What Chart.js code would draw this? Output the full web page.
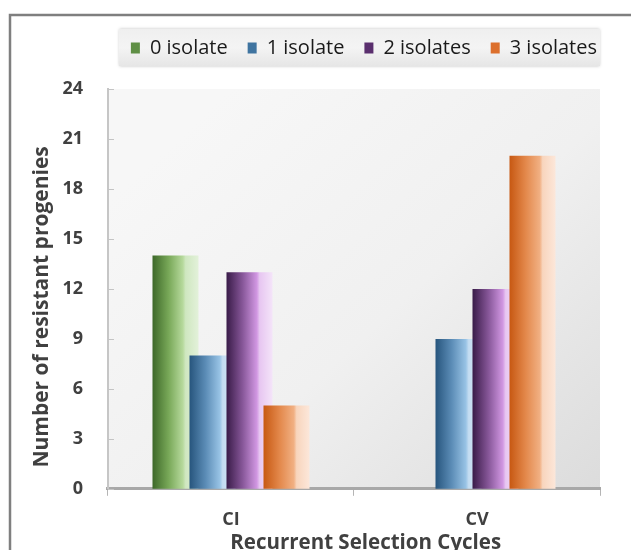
<!DOCTYPE html>
<html>
<head>
<meta charset="utf-8">
<script src="https://cdn.jsdelivr.net/npm/chart.js@4.4.0/dist/chart.umd.min.js"></script>
<style>
  html, body { margin: 0; padding: 0; background: #ffffff; }
  canvas { display: block; }
</style>
</head>
<body>
<canvas id="c" width="631" height="550"></canvas>
<script>
// ---- data ----
const categories = ['CI', 'CV'];
const seriesLabels = ['0 isolate', '1 isolate', '2 isolates', '3 isolates'];
const isolate0 = [14, 0];
const isolate1 = [8, 9];
const isolate2 = [13, 12];
const isolate3 = [5, 20];
const yTicks = [0, 3, 6, 9, 12, 15, 18, 21, 24];
const xTitle = 'Recurrent Selection Cycles';
const yTitle = 'Number of resistant progenies';

// ---- styles ----
const FONT = "'Open Sans', 'Liberation Sans', sans-serif";
const gradStops = [
  ['#3d6829', '#78a858', '#b6d99c', '#cfe7c0', '#e3f1da'],
  ['#27557d', '#5b8cb6', '#98c3e5', '#c3dcf1', '#d9e9f7'],
  ['#391b48', '#875799', '#d197e2', '#e7c6f1', '#f4e4f9'],
  ['#c75812', '#e3884b', '#f1b083', '#f8d5bd', '#fce7da']
];
const legendColors = ['#5f8f45', '#3f74a0', '#5a2f6e', '#dc6f2c'];
const CAT_PCT = 0.6016;
const BAR_PCT = 1.243;
const LEGEND_SHIFT = 17;
const X_TITLE_SHIFT = '\u2007\u2007';
const Y_TITLE_SHIFT = '\u2007\u2007\u2007';

function barGradient(ctx) {
  const ds = ctx.datasetIndex;
  const stops = gradStops[ds];
  const chart = ctx.chart;
  const xs = chart.scales && chart.scales.x;
  if (ctx.dataIndex === undefined || !xs || !chart.chartArea) return stops[1];
  const n = chart.data.datasets.length;
  const center = xs.getPixelForValue(ctx.dataIndex);
  const catW = (xs.right - xs.left) / categories.length;
  const step = catW * CAT_PCT / n;
  const bc = center + (ds - (n - 1) / 2) * step;
  const bw = step * BAR_PCT;
  const g = chart.ctx.createLinearGradient(bc - bw / 2, 0, bc + bw / 2, 0);
  g.addColorStop(0, stops[0]);
  g.addColorStop(0.35, stops[1]);
  g.addColorStop(0.66, stops[2]);
  g.addColorStop(0.72, stops[3]);
  g.addColorStop(1, stops[4]);
  return g;
}

const decoPlugin = {
  id: 'deco',
  beforeInit(chart) {
    const lg = chart.legend;
    const fit = lg.fit;
    lg.fit = function () { fit.call(lg); lg.height += 21; };
  },
  beforeDraw(chart) {
    const c = chart.ctx;
    const a = chart.chartArea;
    c.save();
    // outer frame
    c.strokeStyle = '#7f7f7f';
    c.lineWidth = 2.5;
    c.beginPath();
    c.moveTo(10, 550);
    c.lineTo(10, 15);
    c.lineTo(631, 15);
    c.stroke();
    // plot background
    const g = c.createLinearGradient(a.left + a.width * 0.25, a.top, a.right, a.bottom);
    g.addColorStop(0, '#f7f7f7');
    g.addColorStop(0.5, '#f0f0f0');
    g.addColorStop(1, '#dcdcdc');
    c.fillStyle = g;
    c.fillRect(a.left, a.top, a.width, a.height);
    // legend: shift items to the right, then draw its background
    const lg = chart.legend;
    if (lg && lg.legendHitBoxes && lg.legendHitBoxes.length) {
      if (!lg.$shifted) { lg.right += LEGEND_SHIFT; lg.$shifted = true; }
      const hb = lg.legendHitBoxes;
      const x0 = hb[0].left + LEGEND_SHIFT - 12;
      const x1 = a.right;
      const y0 = hb[0].top - 9;
      const y1 = hb[0].top + hb[0].height + 8;
      c.shadowColor = 'rgba(0,0,0,0.25)';
      c.shadowBlur = 3;
      const lgG = c.createLinearGradient(0, y0, 0, y1);
      lgG.addColorStop(0, '#efefef');
      lgG.addColorStop(0.5, '#f4f4f4');
      lgG.addColorStop(1, '#e6e6e6');
      c.fillStyle = lgG;
      c.fillRect(x0, y0, x1 - x0, y1 - y0);
    }
    c.restore();
  },
  beforeDatasetDraw() { return false; },
  afterDatasetsDraw(chart) {
    for (let i = 0; i < chart.data.datasets.length; i++) {
      if (chart.isDatasetVisible(i)) chart.getDatasetMeta(i).controller.draw();
    }
    // small inner tick marks on y axis
    const ys = chart.scales.y;
    const c = chart.ctx;
    c.save();
    c.strokeStyle = '#c4c4c4';
    c.lineWidth = 1;
    ys.ticks.forEach(t => {
      const y = Math.round(ys.getPixelForValue(t.value)) + 0.5;
      c.beginPath();
      c.moveTo(ys.right, y);
      c.lineTo(ys.right + 6, y);
      c.stroke();
    });
    c.restore();
  }
};

const seriesData = [isolate0, isolate1, isolate2, isolate3];

new Chart(document.getElementById('c'), {
  type: 'bar',
  data: {
    labels: categories,
    datasets: seriesData.map((d, i) => ({
      label: seriesLabels[i],
      data: d,
      backgroundColor: barGradient,
      borderWidth: 0,
      categoryPercentage: CAT_PCT,
      barPercentage: BAR_PCT
    }))
  },
  options: {
    responsive: false,
    animation: false,
    devicePixelRatio: 1,
    layout: { padding: { left: 26, right: 31, top: 18, bottom: -5 } },
    plugins: {
      tooltip: { enabled: false },
      legend: {
        position: 'top',
        align: 'end',
        labels: {
          font: { family: FONT, size: 20 },
          color: '#1a1a1a',
          boxWidth: 9,
          boxHeight: 11,
          padding: 20,
          generateLabels: (chart) => chart.data.datasets.map((d, i) => ({
            text: d.label,
            fillStyle: legendColors[i],
            strokeStyle: legendColors[i],
            lineWidth: 0,
            hidden: !chart.isDatasetVisible(i),
            datasetIndex: i,
            fontColor: '#1a1a1a'
          }))
        }
      }
    },
    scales: {
      x: {
        grid: { display: true, drawOnChartArea: false, drawTicks: true, tickLength: 7, offset: true, color: '#b5b5b5' },
        border: { display: true, color: '#a8a8a8', width: 3 },
        ticks: { font: { family: FONT, size: 18, weight: 'bold' }, color: '#404040', padding: 13 },
        title: { display: true, text: X_TITLE_SHIFT + xTitle, font: { family: FONT, size: 20.5, weight: 'bold' }, color: '#404040', padding: { top: -13, bottom: 0 } }
      },
      y: {
        min: 0,
        max: 24,
        afterBuildTicks: (s) => { s.ticks = yTicks.map(v => ({ value: v })); },
        grid: { display: false, drawTicks: false, tickLength: 0 },
        border: { display: true, color: '#c6c6c6', width: 2 },
        ticks: { font: { family: FONT, size: 18, weight: 'bold' }, color: '#404040', padding: 25 },
        title: { display: true, text: yTitle + Y_TITLE_SHIFT, font: { family: FONT, size: 21, weight: 'bold' }, color: '#404040', padding: { top: 3.4, bottom: -17.2 } }
      }
    }
  },
  plugins: [decoPlugin]
});
</script>
</body>
</html>
